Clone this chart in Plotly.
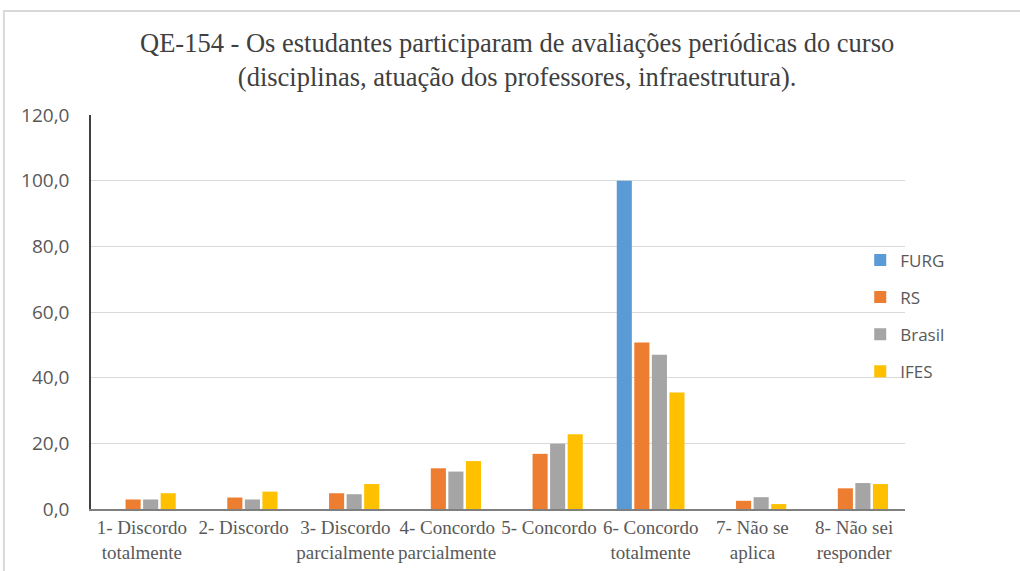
import plotly.graph_objects as go

categories = ["1- Discordo<br>totalmente", "2- Discordo", "3- Discordo<br>parcialmente",
              "4- Concordo<br>parcialmente", "5- Concordo", "6- Concordo<br>totalmente",
              "7- Não se<br>aplica", "8- Não sei<br>responder"]
furg = [0, 0, 0, 0, 0, 100.0, 0, 0]
rs = [2.9, 3.5, 4.8, 12.4, 16.8, 50.7, 2.5, 6.3]
brasil = [2.9, 2.9, 4.5, 11.4, 19.9, 47.0, 3.6, 7.9]
ifes = [4.8, 5.3, 7.6, 14.6, 22.8, 35.5, 1.5, 7.6]

series = [("FURG", furg, "#5b9bd5"), ("RS", rs, "#ed7d31"),
          ("Brasil", brasil, "#a5a5a5"), ("IFES", ifes, "#ffc000")]

fig = go.Figure()
for name, vals, col in series:
    fig.add_trace(go.Bar(x=categories, y=vals, name=name, marker_color=col,
                         marker_line_width=0, legendgroup=name))

fig.update_layout(
    width=1020, height=571,
    paper_bgcolor="white", plot_bgcolor="white",
    margin=dict(l=91, r=115, t=115, b=62, autoexpand=False),
    barmode="group", bargap=0.31, bargroupgap=0.14,
    title=dict(text="QE-154 - Os estudantes participaram de avaliações periódicas do curso<br>(disciplinas, atuação dos professores, infraestrutura).",
               x=0.507, xanchor="center", y=0.909, yanchor="top",
               font=dict(family="Liberation Serif", size=26.5, color="#404040")),
    legend=dict(x=0.945, xanchor="left", y=0.49, yanchor="middle",
                font=dict(family="Open Sans", size=17, color="#595959"),
                tracegroupgap=12, itemwidth=30, bgcolor="rgba(0,0,0,0)"),
    showlegend=True,
    separators=",.",
)
fig.update_yaxes(range=[0, 120], dtick=20, tickformat=".1f", automargin=False,
                 showgrid=True, gridcolor="#d9d9d9", gridwidth=1,
                 showline=True, linecolor="#404040", linewidth=1.5,
                 ticks="", ticklabelstandoff=16,
                 tickfont=dict(family="Open Sans", size=19, color="#595959"))
fig.update_xaxes(showline=True, linecolor="#7f7f7f", linewidth=2, ticks="",
                 tickangle=0, automargin=False,
                 tickfont=dict(family="Liberation Serif", size=19, color="#595959"))

# outer chart border (top and left edges visible)
fig.add_shape(type="rect", xref="paper", yref="paper",
              x0=-0.107, x1=1.2, y0=-0.2, y1=1.264,
              line=dict(color="#d9d9d9", width=2), layer="below")

fig.write_html("out.html", config={"displayModeBar": False},
               post_script="document.body.style.margin='0';")
